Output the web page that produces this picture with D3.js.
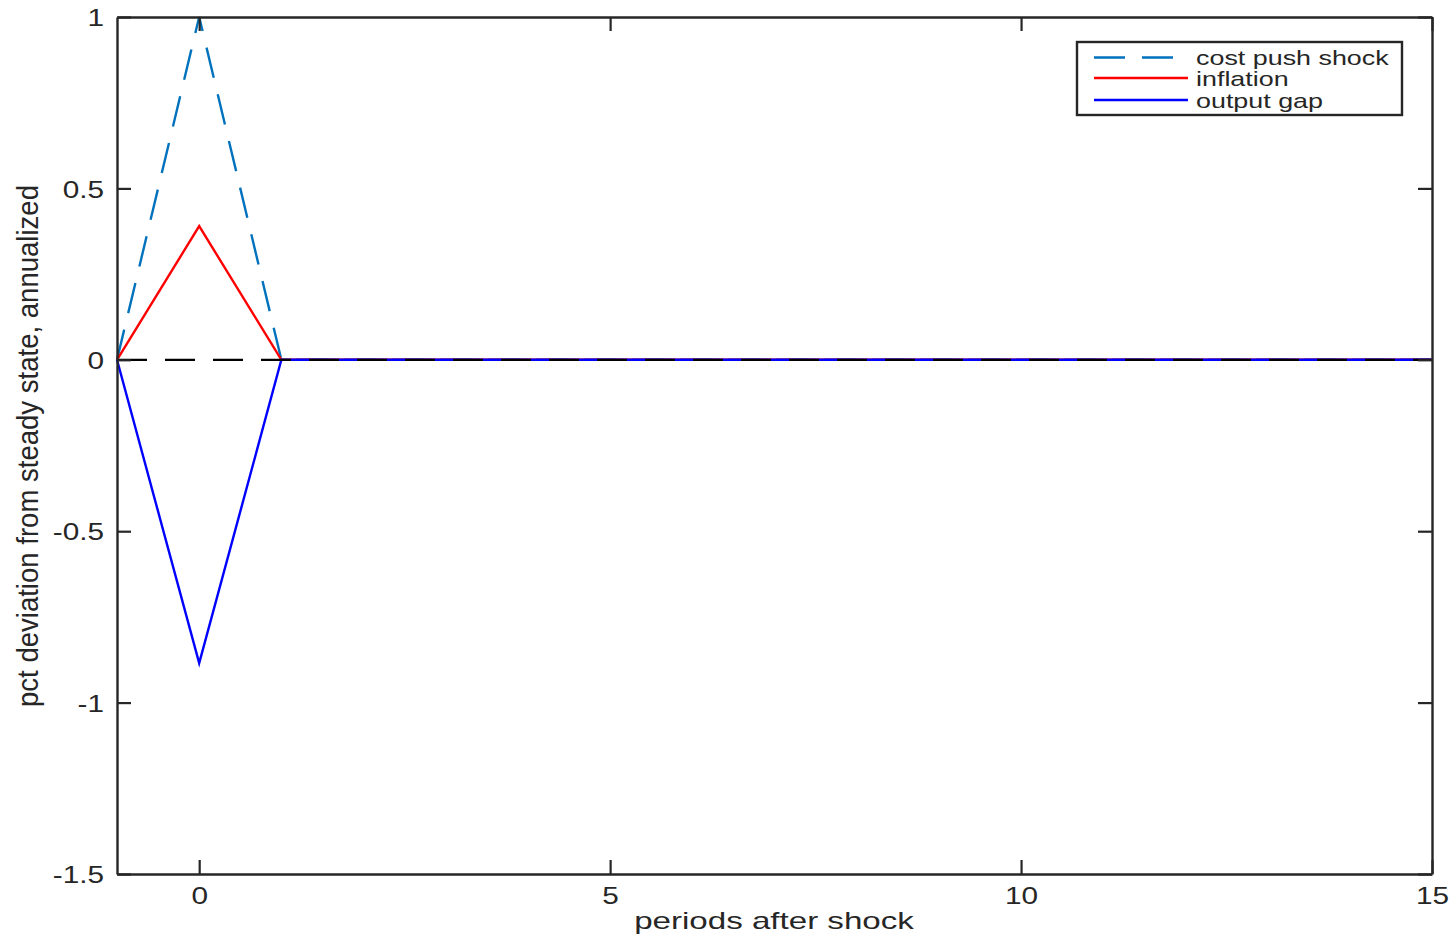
<!DOCTYPE html>
<html>
<head>
<meta charset="utf-8">
<script src="https://cdn.jsdelivr.net/npm/d3@7"></script>
<style>
  body { margin: 0; background: #fff; }
  text { font-family: "Liberation Sans", Arial, sans-serif; fill: #262626; }
</style>
</head>
<body>
<svg id="chart" width="1451" height="936"></svg>
<script>
const periods = [-1, 0, 1, 2, 3, 4, 5, 6, 7, 8, 9, 10, 11, 12, 13, 14, 15];
const costPush = [0, 1, 0, 0, 0, 0, 0, 0, 0, 0, 0, 0, 0, 0, 0, 0, 0];
const inflation = [0, 0.39, 0, 0, 0, 0, 0, 0, 0, 0, 0, 0, 0, 0, 0, 0, 0];
const outputGap = [0, -0.885, 0, 0, 0, 0, 0, 0, 0, 0, 0, 0, 0, 0, 0, 0, 0];
const xTicks = [0, 5, 10, 15];
const yTicks = [1, 0.5, 0, -0.5, -1, -1.5];

const series = [
  { name: "cost push shock", values: costPush, color: "#0072BD", dashed: true },
  { name: "inflation", values: inflation, color: "#ff0000", dashed: false },
  { name: "output gap", values: outputGap, color: "#0000ff", dashed: false }
];

const svg = d3.select("#chart");
const margin = { left: 117, right: 19, top: 17, bottom: 62 };
const width = 1451, height = 936;
const dashPattern = "31,17";

const x = d3.scaleLinear().domain([-1, 15]).range([margin.left, width - margin.right]);
const y = d3.scaleLinear().domain([-1.5, 1]).range([height - margin.bottom, margin.top]);

const line = d3.line().x((d) => x(d[0])).y((d) => y(d[1]));

const plot = svg.append("g");

series.forEach((s) => {
  plot.append("path")
    .datum(periods.map((p, i) => [p, s.values[i]]))
    .attr("fill", "none")
    .attr("stroke", s.color)
    .attr("stroke-width", 2.4)
    .attr("stroke-linejoin", "miter")
    .attr("stroke-dasharray", s.dashed ? dashPattern : null)
    .attr("d", line);
});

// zero reference line
plot.append("line")
  .attr("x1", x(-1)).attr("x2", x(15))
  .attr("y1", y(0)).attr("y2", y(0))
  .attr("stroke", "#000")
  .attr("stroke-width", 2.2)
  .attr("stroke-dasharray", "30,18");

// axes (ticks inside, box on)
const tickLen = 14;
const axisColor = "#262626";
const tickFmt = (d) => String(d); // plain hyphen minus like the original

const axBottom = svg.append("g").attr("transform", `translate(0,${y(-1.5)})`)
  .call(d3.axisBottom(x).tickValues(xTicks).tickSizeInner(-tickLen).tickSizeOuter(0).tickFormat(tickFmt));
const axTop = svg.append("g").attr("transform", `translate(0,${y(1)})`)
  .call(d3.axisTop(x).tickValues(xTicks).tickSizeInner(-tickLen).tickSizeOuter(0).tickFormat(""));
const axLeft = svg.append("g").attr("transform", `translate(${x(-1)},0)`)
  .call(d3.axisLeft(y).tickValues(yTicks).tickSizeInner(-tickLen).tickSizeOuter(0).tickFormat(tickFmt));
const axRight = svg.append("g").attr("transform", `translate(${x(15)},0)`)
  .call(d3.axisRight(y).tickValues(yTicks).tickSizeInner(-tickLen).tickSizeOuter(0).tickFormat(""));

[axBottom, axTop, axLeft, axRight].forEach((g) => {
  g.select(".domain").attr("stroke", axisColor).attr("stroke-width", 2.4);
  g.selectAll(".tick line").attr("stroke", axisColor).attr("stroke-width", 2.2);
  g.selectAll(".tick text")
    .attr("fill", axisColor)
    .style("font-family", "'Liberation Sans', Arial, sans-serif")
    .attr("font-size", 24);
});

// the original fonts run wider than Liberation Sans, stretch them horizontally
axBottom.selectAll(".tick text")
  .attr("y", null).attr("dy", null)
  .attr("text-anchor", "middle")
  .attr("transform", "translate(0,30) scale(1.24,1)");
axLeft.selectAll(".tick text")
  .attr("x", null).attr("dy", "0.36em")
  .attr("text-anchor", "end")
  .attr("transform", "translate(-13,0) scale(1.24,1)");

// axis labels
svg.append("text")
  .attr("transform", `translate(${(634 + 914) / 2},929) scale(1.38,1)`)
  .attr("text-anchor", "middle")
  .attr("font-size", 24)
  .text("periods after shock");

svg.append("text")
  .attr("transform", `translate(38,${(185 + 707) / 2}) rotate(-90) scale(1,1.1)`)
  .attr("text-anchor", "middle")
  .attr("font-size", 27)
  .attr("textLength", 522)
  .attr("lengthAdjust", "spacingAndGlyphs")
  .text("pct deviation from steady state, annualized");

// legend
const legend = svg.append("g").attr("transform", "translate(1077,42)");
legend.append("rect")
  .attr("width", 325).attr("height", 73)
  .attr("fill", "#fff")
  .attr("stroke", "#262626")
  .attr("stroke-width", 2.4);
const rowY = [15.5, 36, 58];
series.forEach((s, i) => {
  legend.append("line")
    .attr("x1", 17).attr("x2", 111)
    .attr("y1", rowY[i]).attr("y2", rowY[i])
    .attr("stroke", s.color)
    .attr("stroke-width", 2.4)
    .attr("stroke-dasharray", s.dashed ? dashPattern : null);
  legend.append("text")
    .attr("transform", `translate(119,${rowY[i] + 7.5}) scale(1.28,1)`)
    .attr("font-size", 21)
    .attr("fill", "#000")
    .text(s.name);
});
</script>
</body>
</html>
